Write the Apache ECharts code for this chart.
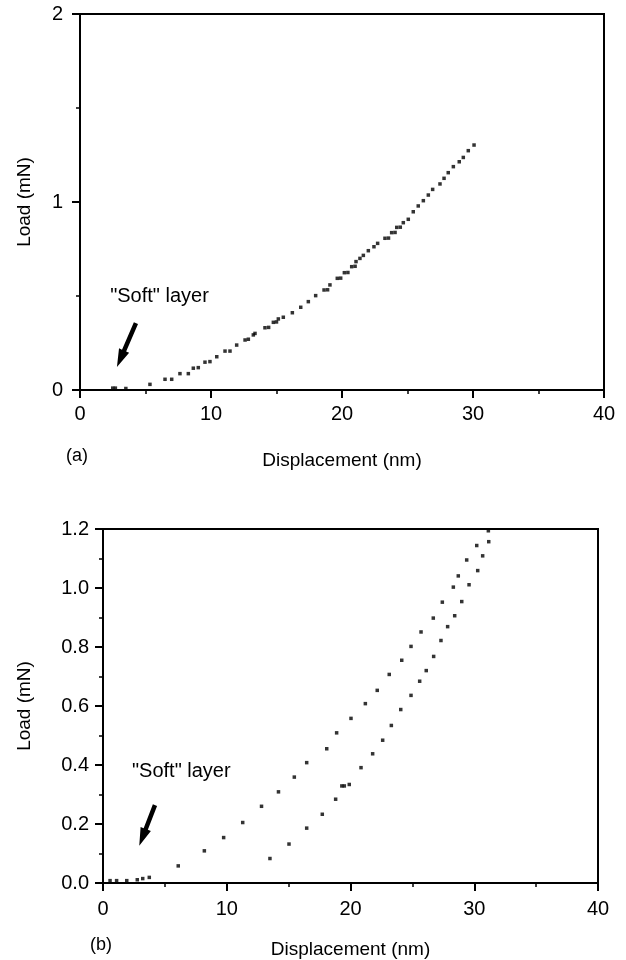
<!DOCTYPE html>
<html>
<head>
<meta charset="utf-8">
<script src="https://cdn.jsdelivr.net/npm/echarts@6/dist/echarts.min.js"></script>
<style>
html,body{margin:0;padding:0;background:#fff;}
#c{width:626px;height:960px;}
</style>
</head>
<body>
<div id="c"></div>
<script>
// ---------- Data (a) ----------
var softA = [[2.5,0.01],[2.7,0.01],[3.5,0.008]];
var curveA = [
 [5.34,0.03],[6.49,0.057],[7.0,0.057],[7.63,0.087],[8.27,0.087],[8.65,0.116],[9.03,0.119],
 [9.54,0.148],[9.92,0.151],[10.44,0.177],[11.07,0.207],[11.45,0.207],[11.96,0.239],
 [12.6,0.266],[12.85,0.27],[13.23,0.293],[13.36,0.301],[14.12,0.331],[14.4,0.333],
 [14.76,0.36],[15.0,0.362],[15.14,0.378],[15.52,0.387],[16.21,0.411],[16.85,0.44],
 [17.43,0.47],[17.99,0.502],[18.63,0.532],[18.9,0.533],[19.08,0.559],[19.64,0.594],
 [19.9,0.595],[20.18,0.624],[20.45,0.625],[20.74,0.656],[21.0,0.658],[21.07,0.683],
 [21.37,0.70],[21.63,0.716],[22.01,0.741],[22.44,0.762],[22.72,0.78],[23.28,0.807],
 [23.55,0.808],[23.79,0.837],[24.05,0.838],[24.18,0.865],[24.45,0.866],[24.68,0.89],
 [25.06,0.908],[25.44,0.948],[25.82,0.979],[26.21,1.007],[26.59,1.037],[26.92,1.067],
 [27.48,1.096],[27.79,1.126],[28.11,1.156],[28.5,1.188],[28.95,1.214],[29.26,1.237],
 [29.64,1.273],[30.08,1.303]
];
// ---------- Data (b) ----------
var softB = [[0.57,0.008],[1.1,0.008],[1.92,0.008],[2.77,0.011],[3.21,0.015],[3.74,0.019]];
var loadingB = [
 [6.08,0.058],[8.19,0.109],[9.75,0.154],[11.29,0.205],[12.81,0.26],[14.18,0.309],
 [15.46,0.359],[16.46,0.408],[18.08,0.455],[18.88,0.509],[20.04,0.558],[21.2,0.608],
 [22.16,0.653],[23.13,0.707],[24.14,0.755],[24.89,0.802],[25.7,0.851],[26.69,0.898],
 [27.42,0.952],[28.31,1.003],[28.71,1.041],[29.39,1.095],[30.2,1.144],[31.14,1.194]
];
var unloadingB = [
 [13.49,0.083],[15.03,0.132],[16.46,0.186],[17.72,0.233],[18.8,0.284],[19.3,0.329],
 [19.5,0.329],[19.9,0.334],[20.85,0.391],[21.79,0.438],[22.6,0.484],[23.3,0.534],
 [24.06,0.588],[24.89,0.636],[25.59,0.684],[26.12,0.72],[26.72,0.768],[27.31,0.822],
 [27.85,0.869],[28.42,0.906],[28.99,0.954],[29.58,1.011],[30.28,1.059],[30.68,1.109],
 [31.17,1.157]
];
// ---------- Axis ticks ----------
var xTicks = [0,10,20,30,40];
var yTicksA = [0,1,2];
var yTicksB = [0,0.2,0.4,0.6,0.8,1.0,1.2];
// ---------- Annotations (data units) ----------
var noteText = '"Soft" layer';
var noteA = {text:[2.3,0.49], tail:[4.27,0.356], tip:[2.82,0.122]};
var noteB = {text:[2.34,0.375], tail:[4.2,0.264], tip:[2.93,0.126]};

var FONT = 'Liberation Sans';
var chart = echarts.init(document.getElementById('c'), null, {renderer:'canvas'});

function xAxisCfg(gi, margin, gap) {
  return {
    type:'value', gridIndex:gi, min:xTicks[0], max:xTicks[xTicks.length-1], interval:10,
    name:'Displacement (nm)', nameLocation:'middle', nameGap:gap,
    nameTextStyle:{color:'#000', fontFamily:FONT, fontSize:19},
    axisLine:{show:true, onZero:false, lineStyle:{color:'#000', width:2}},
    axisTick:{show:true, inside:false, length:8, lineStyle:{color:'#000', width:2}},
    minorTick:{show:true, splitNumber:2, length:4, lineStyle:{color:'#000', width:1.5}},
    axisLabel:{color:'#000', fontFamily:FONT, fontSize:20, margin:margin},
    splitLine:{show:false}
  };
}
function yAxisCfg(gi, ticks, interval, margin, gap, fmt) {
  return {
    type:'value', gridIndex:gi, min:ticks[0], max:ticks[ticks.length-1], interval:interval,
    name:'Load (mN)', nameLocation:'middle', nameGap:gap,
    nameTextStyle:{color:'#000', fontFamily:FONT, fontSize:19},
    axisLine:{show:true, onZero:false, lineStyle:{color:'#000', width:2}},
    axisTick:{show:true, inside:false, length:8, lineStyle:{color:'#000', width:2}},
    minorTick:{show:true, splitNumber:2, length:4, lineStyle:{color:'#000', width:1.5}},
    axisLabel:{color:'#000', fontFamily:FONT, fontSize:20, margin:margin, formatter:fmt},
    splitLine:{show:false}
  };
}
function scat(name, data, xi, yi, size) {
  return {name:name, type:'scatter', xAxisIndex:xi, yAxisIndex:yi, data:data,
    symbol:'rect', symbolSize:size, itemStyle:{color:'#000'}, silent:true, animation:false};
}

chart.setOption({
  animation:false,
  backgroundColor:'#fff',
  grid:[
    {left:80, right:22, top:14, bottom:570, show:true, borderColor:'#000', borderWidth:2, containLabel:false},
    {left:103, right:28, top:529, bottom:76, show:true, borderColor:'#000', borderWidth:2, containLabel:false}
  ],
  xAxis:[ xAxisCfg(0, 14, 61), xAxisCfg(1, 16, 57) ],
  yAxis:[
    yAxisCfg(0, yTicksA, 1, 17, 46, function(v){return String(v);}),
    yAxisCfg(1, yTicksB, 0.2, 14, 69, function(v){return v.toFixed(1);})
  ],
  series:[
    scat('softA', softA, 0, 0, 3.5),
    scat('curveA', curveA, 0, 0, 3.5),
    scat('softB', softB, 1, 1, 3.5),
    scat('loadingB', loadingB, 1, 1, 3.5),
    scat('unloadingB', unloadingB, 1, 1, 3.5)
  ]
});

function arrowPoly(tail, tip, shaftW, headW, headL) {
  var dx = tip[0]-tail[0], dy = tip[1]-tail[1];
  var L = Math.sqrt(dx*dx+dy*dy); var ux = dx/L, uy = dy/L; var nx = -uy, ny = ux;
  var bx = tip[0]-ux*headL, by = tip[1]-uy*headL;
  return [
    [tail[0]+nx*shaftW/2, tail[1]+ny*shaftW/2],
    [bx+nx*shaftW/2, by+ny*shaftW/2],
    [bx+nx*headW/2, by+ny*headW/2],
    [tip[0], tip[1]],
    [bx-nx*headW/2, by-ny*headW/2],
    [bx-nx*shaftW/2, by-ny*shaftW/2],
    [tail[0]-nx*shaftW/2, tail[1]-ny*shaftW/2]
  ];
}
function note(gi, n) {
  var t = chart.convertToPixel({gridIndex:gi}, n.text);
  var a = chart.convertToPixel({gridIndex:gi}, n.tail);
  var b = chart.convertToPixel({gridIndex:gi}, n.tip);
  return [
    {type:'text', left:t[0], top:t[1]-11, style:{text:noteText, fill:'#000', font:'20px "'+FONT+'"'}},
    {type:'polygon', shape:{points:arrowPoly(a,b,4.5,11,18)}, style:{fill:'#000'}}
  ];
}
var xb0 = chart.convertToPixel({gridIndex:0}, [0,0]);
var xb1 = chart.convertToPixel({gridIndex:1}, [0,0]);
chart.setOption({
  graphic: [].concat(
    note(0, noteA), note(1, noteB),
    [
      {type:'text', left:xb0[0]-14, top:xb0[1]+57, style:{text:'(a)', fill:'#000', font:'18px "'+FONT+'"'}},
      {type:'text', left:xb1[0]-13, top:xb1[1]+53, style:{text:'(b)', fill:'#000', font:'18px "'+FONT+'"'}}
    ]
  )
});
</script>
</body>
</html>
